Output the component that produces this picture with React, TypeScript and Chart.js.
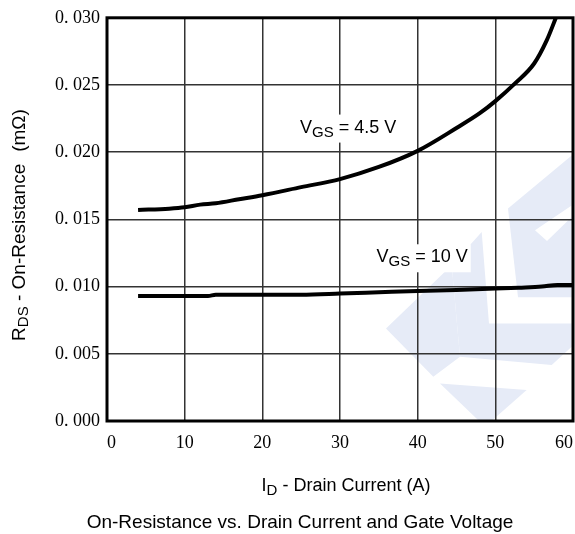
import React, { useEffect, useRef } from "react";
import { Chart, registerables } from "chart.js";

Chart.register(...registerables);

// ---- data ----
const vgs45X = [4, 8, 10, 12, 14, 17, 20, 25, 30, 35, 40, 45, 48, 50, 52.5, 55, 56.6, 57.8];
const vgs45Y = [0.0157, 0.0158, 0.0159, 0.0161, 0.0162, 0.0165, 0.0168, 0.0174, 0.018, 0.0189, 0.0201, 0.0218, 0.0229, 0.0238, 0.0251, 0.0266, 0.0283, 0.03];
const vgs10X = [4, 10, 13, 14, 20, 25, 30, 35, 40, 45, 50, 53, 56, 58, 60];
const vgs10Y = [0.0093, 0.0093, 0.0093, 0.0094, 0.0094, 0.0094, 0.00948, 0.00958, 0.00968, 0.00975, 0.00985, 0.00992, 0.01, 0.01012, 0.01012];

const xTicks = [0, 10, 20, 30, 40, 50, 60];
const yTicks = [0, 0.005, 0.01, 0.015, 0.02, 0.025, 0.03];

const curveLabels = [
  { main: "V", sub: "GS", rest: " = 4.5 V", x: 24.85, y: 0.02146 },
  { main: "V", sub: "GS", rest: " = 10 V", x: 34.7, y: 0.01181 },
];

const yTitle = { main: "R", sub: "DS", rest: " - On-Resistance", unit: "(mΩ)" };
const xTitle = { main: "I", sub: "D", rest: " - Drain Current (A)" };
const caption = "On-Resistance vs. Drain Current and Gate Voltage";

// watermark decoration (fractions of the plot area)
const watermark: number[][][] = [
  [[0.7397, 0.6139], [0.8041, 0.5314], [0.8197, 0.7582], [0.9972, 0.7582], [0.9972, 0.8161], [0.9543, 0.8614], [0.7575, 0.8408]],
  [[0.7397, 0.6139], [0.5987, 0.7705], [0.7002, 0.8903], [0.7575, 0.8408]],
  [[0.7146, 0.9067], [0.9006, 0.9233], [0.8112, 1.0141]],
  [[0.8605, 0.4728], [0.9972, 0.3416], [0.9972, 0.6931], [0.882, 0.6931]],
];
const watermarkNotch = [[0.9185, 0.5272], [0.9442, 0.5537], [0.9972, 0.4943], [0.9972, 0.4653]];

const SANS = "Arial, 'Liberation Sans', sans-serif";
const SERIF = "'Liberation Serif', 'Times New Roman', serif";

function subTextWidth(ctx: CanvasRenderingContext2D, main: string, sub: string, rest: string, size: number, subSize: number) {
  ctx.font = `${size}px ${SANS}`;
  const w1 = ctx.measureText(main).width;
  const w3 = ctx.measureText(rest).width;
  ctx.font = `${subSize}px ${SANS}`;
  const w2 = ctx.measureText(sub).width;
  return w1 + w2 + w3;
}

function drawSubText(ctx: CanvasRenderingContext2D, main: string, sub: string, rest: string, x: number, y: number, size: number, subSize: number, subDrop: number) {
  ctx.textAlign = "left";
  ctx.textBaseline = "alphabetic";
  ctx.fillStyle = "#000";
  ctx.font = `${size}px ${SANS}`;
  ctx.fillText(main, x, y);
  let cx = x + ctx.measureText(main).width;
  ctx.font = `${subSize}px ${SANS}`;
  ctx.fillText(sub, cx, y + subDrop);
  cx += ctx.measureText(sub).width;
  ctx.font = `${size}px ${SANS}`;
  ctx.fillText(rest, cx, y);
  return cx + ctx.measureText(rest).width;
}

function polyPath(ctx: CanvasRenderingContext2D, poly: number[][], a: any) {
  const w = a.right - a.left;
  const h = a.bottom - a.top;
  ctx.beginPath();
  poly.forEach(([fx, fy], i) => {
    const px = a.left + fx * w;
    const py = a.top + fy * h;
    if (i === 0) ctx.moveTo(px, py);
    else ctx.lineTo(px, py);
  });
  ctx.closePath();
}

const decorPlugin = {
  id: "decor",
  beforeDraw(chart: any) {
    const { ctx, chartArea: a } = chart;
    ctx.save();
    ctx.beginPath();
    ctx.rect(a.left, a.top, a.right - a.left, a.bottom - a.top);
    ctx.clip();
    ctx.fillStyle = "#e6ebf7";
    for (const poly of watermark) {
      polyPath(ctx, poly, a);
      ctx.fill();
    }
    ctx.fillStyle = "#ffffff";
    polyPath(ctx, watermarkNotch, a);
    ctx.fill();
    ctx.restore();
  },
  afterDatasetsDraw(chart: any) {
    const { ctx } = chart;
    const xs = chart.scales.x;
    const ys = chart.scales.y;
    ctx.save();
    for (const l of curveLabels) {
      const px = xs.getPixelForValue(l.x);
      const py = ys.getPixelForValue(l.y);
      const tw = subTextWidth(ctx, l.main, l.sub, l.rest, 18, 15);
      ctx.fillStyle = "#ffffff";
      ctx.fillRect(px - 3, py - 18, tw + 6, 28);
      drawSubText(ctx, l.main, l.sub, l.rest, px, py, 18, 15, 4);
    }
    ctx.restore();
  },
  afterDraw(chart: any) {
    const { ctx, chartArea: a } = chart;
    ctx.save();
    // frame
    ctx.strokeStyle = "#000";
    ctx.lineWidth = 3;
    ctx.strokeRect(a.left, a.top, a.right - a.left, a.bottom - a.top);
    ctx.restore();

    // y title (rotated)
    ctx.save();
    const gap = 12;
    const tw = subTextWidth(ctx, yTitle.main, yTitle.sub, yTitle.rest, 19, 15);
    ctx.font = `19px ${SANS}`;
    const uw = ctx.measureText(yTitle.unit).width;
    const total = tw + gap + uw;
    ctx.translate(25, 225);
    ctx.rotate(-Math.PI / 2);
    const endX = drawSubText(ctx, yTitle.main, yTitle.sub, yTitle.rest, -total / 2, 0, 19, 15, 3);
    ctx.font = `19px ${SANS}`;
    ctx.fillText(yTitle.unit, endX + gap, 0);
    ctx.restore();

    // x title + caption
    ctx.save();
    const xw = subTextWidth(ctx, xTitle.main, xTitle.sub, xTitle.rest, 18, 15);
    drawSubText(ctx, xTitle.main, xTitle.sub, xTitle.rest, 346 - xw / 2, 491, 18, 15, 4);
    ctx.font = `19px ${SANS}`;
    ctx.textAlign = "center";
    ctx.fillStyle = "#000";
    ctx.fillText(caption, 300, 528);
    ctx.restore();
  },
};

export default function App() {
  const ref = useRef<HTMLCanvasElement | null>(null);
  useEffect(() => {
    if (!ref.current) return;
    const chart = new Chart(ref.current, {
      type: "line",
      data: {
        datasets: [
          {
            label: "VGS = 4.5 V",
            data: vgs45X.map((x, i) => ({ x, y: vgs45Y[i] })),
            borderColor: "#000",
            borderWidth: 4,
            pointRadius: 0,
            cubicInterpolationMode: "monotone",
            fill: false,
          },
          {
            label: "VGS = 10 V",
            data: vgs10X.map((x, i) => ({ x, y: vgs10Y[i] })),
            borderColor: "#000",
            borderWidth: 4,
            pointRadius: 0,
            cubicInterpolationMode: "monotone",
            fill: false,
          },
        ],
      },
      options: {
        animation: false,
        responsive: true,
        maintainAspectRatio: false,
        layout: { padding: { left: 0, top: 17, right: 2, bottom: 0 } },
        plugins: { legend: { display: false }, tooltip: { enabled: false }, title: { display: false } },
        scales: {
          x: {
            type: "linear",
            min: 0,
            max: 60,
            afterFit: (s: any) => {
              s.height = 113;
              s.paddingLeft = 0;
              s.paddingRight = 0;
            },
            afterBuildTicks: (s: any) => {
              s.ticks = xTicks.map((v) => ({ value: v }));
            },
            ticks: {
              align: "inner",
              padding: 11,
              color: "#000",
              font: { family: SERIF, size: 18 },
              callback: (v: any) => String(v),
            },
            grid: { color: "#333", lineWidth: 1.5, drawTicks: false },
            border: { display: false },
          },
          y: {
            type: "linear",
            min: 0,
            max: 0.03,
            afterFit: (s: any) => {
              s.width = 107;
            },
            afterBuildTicks: (s: any) => {
              s.ticks = yTicks.map((v) => ({ value: v }));
            },
            ticks: {
              padding: 7,
              color: "#000",
              font: { family: SERIF, size: 18 },
              callback: (v: any) => Number(v).toFixed(3).replace(".", ". "),
            },
            grid: { color: "#333", lineWidth: 1.5, drawTicks: false },
            border: { display: false },
          },
        },
      },
      plugins: [decorPlugin],
    } as any);
    return () => chart.destroy();
  }, []);
  return (
    <div style={{ position: "fixed", left: 0, top: 0, width: 575, height: 534, background: "#fff" }}>
      <canvas ref={ref} />
    </div>
  );
}
